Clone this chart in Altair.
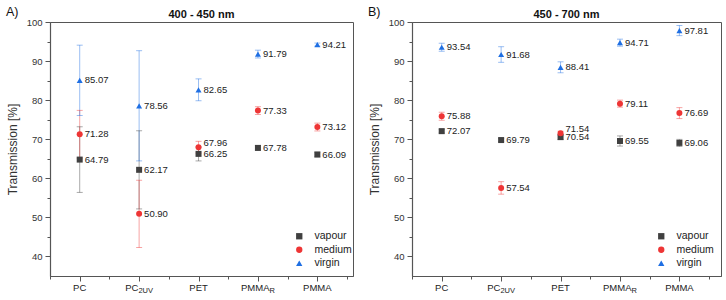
import altair as alt
import pandas as pd

# Samples on the x axis (main text + subscript)
categories = ["PC", "PC2UV", "PET", "PMMA_R", "PMMA"]
label_main = ["PC", "PC", "PET", "PMMA", "PMMA"]
label_sub = ["", "2UV", "", "R", ""]

series_names = ["vapour", "medium", "virgin"]
series_colors = ["#404040", "#ee3535", "#1f6fe3"]
series_shapes = ["square", "circle", "triangle-up"]

# 400 - 450 nm : mean transmission [%] and standard deviation
vapour_a = [64.79, 62.17, 66.25, 67.78, 66.09]
vapour_a_err = [8.4, 10.0, 1.8, 0.6, 0.6]
medium_a = [71.28, 50.90, 67.96, 77.33, 73.12]
medium_a_err = [6.1, 8.6, 1.5, 1.0, 1.0]
virgin_a = [85.07, 78.56, 82.65, 91.79, 94.21]
virgin_a_err = [9.0, 14.1, 2.8, 1.0, 0.4]

# 450 - 700 nm
vapour_b = [72.07, 69.79, 70.54, 69.55, 69.06]
vapour_b_err = [0.5, 0.4, 0.6, 1.3, 0.9]
medium_b = [75.88, 57.54, 71.54, 79.11, 76.69]
medium_b_err = [1.0, 1.6, 0.5, 0.9, 1.4]
virgin_b = [93.54, 91.68, 88.41, 94.71, 97.81]
virgin_b_err = [1.0, 2.0, 1.4, 0.9, 1.3]

FONT = "Liberation Sans"
H = 254
LABEL_SIZE = 9.5
SUB_SIZE = 7.5

# rough Arial advance widths (em) for centring main text + subscript
CHAR_W = {"P": 0.667, "C": 0.722, "E": 0.667, "T": 0.611, "M": 0.833,
          "A": 0.667, "R": 0.722, "U": 0.722, "V": 0.667, "2": 0.556}


def text_width(s, size):
    return sum(CHAR_W.get(ch, 0.556) for ch in s) * size


def build_frame(vals):
    rows = []
    for name, (v_list, e_list) in zip(series_names, vals):
        for i, (cat, v, e) in enumerate(zip(categories, v_list, e_list)):
            rows.append({"idx": i + 1, "cat": cat, "series": name,
                         "value": v, "lo": v - e, "hi": v + e})
    return pd.DataFrame(rows)


df_a = build_frame([(vapour_a, vapour_a_err), (medium_a, medium_a_err), (virgin_a, virgin_a_err)])
df_b = build_frame([(vapour_b, vapour_b_err), (medium_b, medium_b_err), (virgin_b, virgin_b_err)])
cat_df = pd.DataFrame({"idx": list(range(1, len(categories) + 1)), "cat": categories,
                       "main": label_main, "sub": label_sub})


def panel(df, title, letter, xmax, width):
    xs = alt.X("idx:Q",
               scale=alt.Scale(domain=[0.5, xmax], nice=False, zero=False),
               axis=alt.Axis(values=[0.5 * k for k in range(1, 12)], labels=False, title=None,
                             grid=False,
                             tickSize={"condition": {"test": "datum.value % 1 == 0", "value": 5}, "value": 3}))

    def ys(field):
        return alt.Y(f"{field}:Q",
                     scale=alt.Scale(domain=[35, 100], nice=False, zero=False),
                     axis=alt.Axis(values=list(range(40, 101, 5)), grid=False,
                                   title="Transmission [%]", titlePadding=7,
                                   labelExpr="datum.value % 10 == 0 ? datum.label : ''",
                                   tickSize={"condition": {"test": "datum.value % 10 == 0", "value": 5}, "value": 3}))

    legend = alt.Legend(orient="none", legendX=244, legendY=209, title=None, symbolOpacity=1)
    color = alt.Color("series:N", scale=alt.Scale(domain=series_names, range=series_colors), legend=legend)
    shape = alt.Shape("series:N", scale=alt.Scale(domain=series_names, range=series_shapes), legend=legend)

    base = alt.Chart(df)
    bars = base.mark_rule(strokeWidth=1, opacity=0.45).encode(x=xs, y=ys("lo"), y2="hi:Q", color=color)
    cap_lo = base.mark_tick(orient="horizontal", size=6, thickness=1, opacity=0.45).encode(x=xs, y=ys("lo"), color=color)
    cap_hi = base.mark_tick(orient="horizontal", size=6, thickness=1, opacity=0.45).encode(x=xs, y=ys("hi"), color=color)
    pts = base.mark_point(filled=True, size=36, opacity=1).encode(x=xs, y=ys("value"), color=color, shape=shape)

    nudged = "datum.series == 'medium' && datum.cat == 'PET'"
    txt = base.transform_filter(f"!({nudged})").mark_text(
        align="left", baseline="middle", dx=5, fontSize=LABEL_SIZE, font=FONT, color="#222"
    ).encode(x=xs, y=ys("value"), text=alt.Text("value:Q", format=".2f"))
    txt_up = base.transform_filter(nudged).mark_text(
        align="left", baseline="middle", dx=5, dy=-4, fontSize=LABEL_SIZE, font=FONT, color="#222"
    ).encode(x=xs, y=ys("value"), text=alt.Text("value:Q", format=".2f"))

    # category labels under the x axis, with subscripts where needed
    cbase = alt.Chart(cat_df)
    cat_layers = [cbase.transform_filter("datum.sub == ''").mark_text(
        align="center", baseline="middle", fontSize=LABEL_SIZE, font=FONT, color="#222"
    ).encode(x=xs, y=alt.value(H + 11.5), text="main:N")]
    for cat, main, sub in zip(categories, label_main, label_sub):
        if not sub:
            continue
        total = text_width(main, LABEL_SIZE) + text_width(sub, SUB_SIZE)
        shift = total / 2 - text_width(sub, SUB_SIZE)
        sel = cbase.transform_filter(f"datum.cat == '{cat}'")
        cat_layers.append(sel.mark_text(align="right", baseline="middle", dx=shift,
                                        fontSize=LABEL_SIZE, font=FONT, color="#222")
                          .encode(x=xs, y=alt.value(H + 11.5), text="main:N"))
        cat_layers.append(sel.mark_text(align="left", baseline="middle", dx=shift,
                                        fontSize=SUB_SIZE, font=FONT, color="#222")
                          .encode(x=xs, y=alt.value(H + 14.5), text="sub:N"))

    # panel letter and wavelength-range heading above the plot
    head = pd.DataFrame({"t": [letter], "h": [title]})
    tag = alt.Chart(head).mark_text(
        align="left", baseline="middle", fontSize=12.5, font=FONT, color="#111"
    ).encode(x=alt.value(-44), y=alt.value(-10), text="t:N")
    heading = alt.Chart(head).mark_text(
        align="center", baseline="middle", fontSize=11, fontWeight="bold", font=FONT, color="#111"
    ).encode(x=alt.value(width / 2), y=alt.value(-7), text="h:N")

    return alt.layer(bars, cap_lo, cap_hi, pts, txt, txt_up, *cat_layers, tag, heading).properties(
        width=width, height=H
    )


left = panel(df_a, "400 - 450 nm", "A)", 5.6, 303)
right = panel(df_b, "450 - 700 nm", "B)", 5.7, 309)

chart = alt.hconcat(left, right, spacing=13).resolve_scale(
    x="independent", y="independent", color="independent", shape="independent"
).resolve_legend(color="independent", shape="independent").properties(
    padding={"left": 5, "top": 5, "right": 2, "bottom": 2}
).configure_view(
    stroke="#555", strokeWidth=1
).configure_axis(
    domainColor="#555", domainWidth=1.2, tickColor="#555", tickWidth=1,
    labelFont=FONT, labelFontSize=LABEL_SIZE, labelColor="#333", labelPadding=3,
    titleFont=FONT, titleFontSize=12, titleFontWeight="normal", titleColor="#333"
).configure_legend(
    labelFont=FONT, labelFontSize=10.5, labelColor="#222", symbolSize=40,
    symbolStrokeWidth=0, rowPadding=2.5, labelOffset=10, padding=0
)

chart.save("out.html", embed_options={"renderer": "svg", "actions": False})
